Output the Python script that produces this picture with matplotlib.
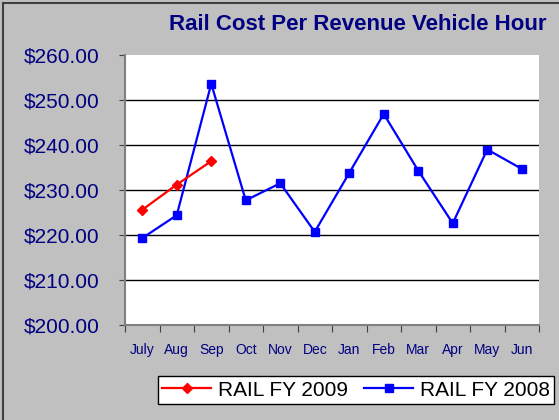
import matplotlib
matplotlib.use("Agg")
import matplotlib.pyplot as plt
from matplotlib.lines import Line2D
import numpy as np

plt.rcParams['font.family'] = ['Liberation Sans', 'DejaVu Sans']

months = ['July', 'Aug', 'Sep', 'Oct', 'Nov', 'Dec', 'Jan', 'Feb', 'Mar', 'Apr', 'May', 'Jun']
rail_2009 = [225.6, 231.2, 236.4]
rail_2008 = [219.3, 224.4, 253.6, 227.7, 231.5, 220.7, 233.8, 246.9, 234.3, 222.6, 239.0, 234.7]
yticks = [200, 210, 220, 230, 240, 250, 260]

navy = '#000080'

fig = plt.figure(figsize=(5.59, 4.2), dpi=100, facecolor='#C0C0C0')
ax = fig.add_axes([125 / 559, 1 - 325 / 420, (539 - 125) / 559, (325 - 55) / 420])
ax.set_facecolor('white')

x = np.arange(len(months))
ax.plot(x[:len(rail_2009)], rail_2009, color='#FF0000', lw=1.6, marker='D', ms=5.5,
        label='RAIL FY 2009', zorder=4)
ax.plot(x, rail_2008, color='#0000FF', lw=1.6, marker='s', ms=6,
        label='RAIL FY 2008', zorder=3)

ax.set_xlim(-0.5, len(months) - 0.5)
ax.set_ylim(200, 260)
ax.set_yticks(yticks)
ax.set_yticklabels(['${:.2f}'.format(v) for v in yticks], color=navy, fontsize=15)
for v in yticks[1:-1]:
    ax.axhline(v, color='black', lw=1, zorder=1)

# x ticks at boundaries, labels at centres
ax.set_xticks(np.arange(-0.5, len(months)), minor=False)
ax.set_xticklabels([])
ax.set_xticks(x, minor=True)
ax.set_xticklabels(months, minor=True, color=navy, fontsize=10)
ax.tick_params(axis='x', which='major', length=5, color='#404040', direction='out')
ax.tick_params(axis='x', which='minor', length=0, pad=13)
ax.tick_params(axis='y', length=4.5, color='#404040', pad=14)

for s in ['top', 'right']:
    ax.spines[s].set_visible(False)
for s in ['left', 'bottom']:
    ax.spines[s].set_color('#808080')
    ax.spines[s].set_linewidth(1.5)

fig.text(358 / 559, 1 - 25 / 420, 'Rail Cost Per Revenue Vehicle Hour', ha='center', va='center',
         color=navy, fontsize=16, fontweight='bold')

leg = fig.legend(loc='center', bbox_to_anchor=(356 / 559, 1 - 390 / 420), ncol=2,
                 fontsize=15, frameon=True, fancybox=False, framealpha=1,
                 edgecolor='black', handlelength=2.35, columnspacing=0.8,
                 handletextpad=0.3, borderpad=0.2, borderaxespad=0)
leg.get_frame().set_linewidth(1)

# outer border
fig.add_artist(Line2D([3 / 559, 3 / 559], [0, 1 - 3 / 420], color='#404040', lw=1.5))
fig.add_artist(Line2D([3 / 559, 1], [1 - 3 / 420, 1 - 3 / 420], color='#404040', lw=1.5))

fig.savefig('out.png', dpi=100, facecolor=fig.get_facecolor())
